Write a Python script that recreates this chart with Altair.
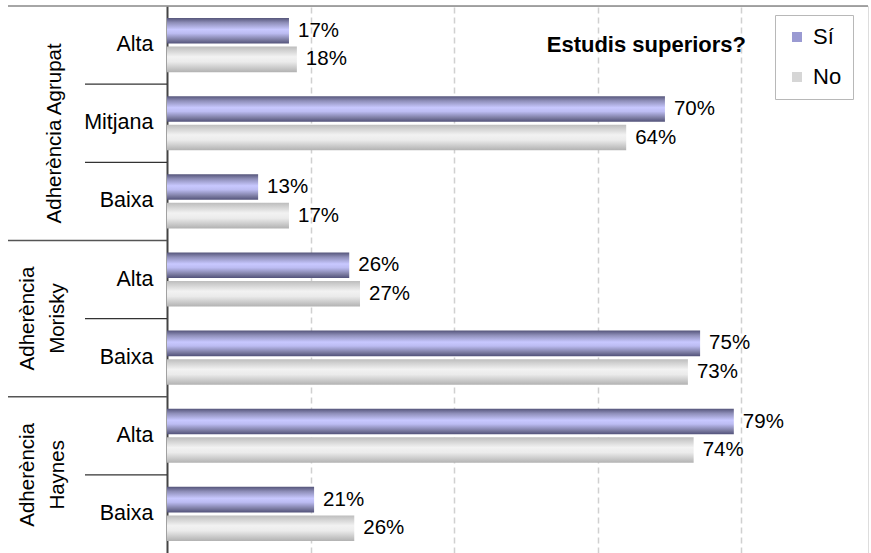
import altair as alt
import pandas as pd

# ---- data ----
groups = ["Agrupat", "Agrupat", "Agrupat", "Morisky", "Morisky", "Haynes", "Haynes"]
levels = ["Alta", "Mitjana", "Baixa", "Alta", "Baixa", "Alta", "Baixa"]
si_values = [17.0, 69.4, 12.7, 25.4, 74.3, 79.0, 20.5]
no_values = [18.1, 64.0, 17.0, 26.9, 72.6, 73.4, 26.1]
si_labels = ["17%", "70%", "13%", "26%", "75%", "79%", "21%"]
no_labels = ["18%", "64%", "17%", "27%", "73%", "74%", "26%"]
series = ["Sí", "No"]
group_names = ["Agrupat", "Morisky", "Haynes"]
group_titles = ["Adherència Agrupat", "Adherència\nMorisky", "Adherència\nHaynes"]
legend_title = "Estudis superiors?"
grid_values = [20, 40, 60, 80]

FONT = "Liberation Sans"

keys = [f"{g}|{l}" for g, l in zip(groups, levels)]

rows = []
for k, sv, nv, sl, nl in zip(keys, si_values, no_values, si_labels, no_labels):
    rows.append({"key": k, "series": "Sí", "value": sv, "label": sl})
    rows.append({"key": k, "series": "No", "value": nv, "label": nl})
df = pd.DataFrame(rows)

# separators
sep_rows = []
for i, k in enumerate(keys):
    if i == 0:
        continue
    kind = "long" if groups[i] != groups[i - 1] else "short"
    sep_rows.append({"key": k, "kind": kind})
sep_df = pd.DataFrame(sep_rows)

# group labels anchors
grp_rows = []
for g, t in zip(group_names, group_titles):
    idx = [i for i, gg in enumerate(groups) if gg == g]
    n = len(idx)
    if n % 2 == 1:
        anchor = keys[idx[n // 2]]
        kind = "odd"
    else:
        anchor = keys[idx[n // 2 - 1]]
        kind = "even"
    grp_rows.append({"anchor": anchor, "text": t, "kind": kind})
grp_df = pd.DataFrame(grp_rows)

W, H = 701, 547
XMAX = 97.7

grad_si = {
    "gradient": "linear", "x1": 0, "y1": 0, "x2": 0, "y2": 1,
    "stops": [
        {"offset": 0.0, "color": "#55557a"},
        {"offset": 0.18, "color": "#8e8eb8"},
        {"offset": 0.45, "color": "#c8c8ff"},
        {"offset": 0.6, "color": "#bcbcf2"},
        {"offset": 0.85, "color": "#7c7ca2"},
        {"offset": 1.0, "color": "#52527a"},
    ],
}
grad_no = {
    "gradient": "linear", "x1": 0, "y1": 0, "x2": 0, "y2": 1,
    "stops": [
        {"offset": 0.0, "color": "#bdbdbd"},
        {"offset": 0.4, "color": "#f2f2f2"},
        {"offset": 0.6, "color": "#ebebeb"},
        {"offset": 1.0, "color": "#b2b2b2"},
    ],
}

y_enc = alt.Y(
    "key:N", sort=keys, title=None,
    scale=alt.Scale(domain=keys, paddingInner=0, paddingOuter=0),
    axis=alt.Axis(
        ticks=False, domain=True, domainColor="#444444", domainWidth=2,
        labelPadding=14, labelFontSize=21.5, labelFont=FONT, labelColor="#000000",
        labelExpr="split(datum.label, '|')[1]", grid=False,
    ),
)
yoff = alt.YOffset("series:N", sort=series,
                   scale=alt.Scale(domain=series, paddingInner=0.105, paddingOuter=0.42))
x_enc = alt.X(
    "value:Q", title=None,
    scale=alt.Scale(domain=[0, XMAX], nice=False, zero=True),
    axis=alt.Axis(values=grid_values, grid=True, gridDash=[6, 4], gridColor="#d0d0d0",
                  gridWidth=1.5, labels=False, ticks=False, domain=False),
)

base = alt.Chart(df)

bars = base.mark_bar(cornerRadius=0).encode(
    x=x_enc,
    y=y_enc,
    yOffset=yoff,
    fill=alt.condition("datum.series === 'Sí'", alt.value(grad_si), alt.value(grad_no)),
)

labels = base.mark_text(align="left", baseline="middle", dx=9, fontSize=20.5, font=FONT,
                        color="#000000").encode(
    x=alt.X("value:Q"),
    y=alt.Y("key:N", sort=keys),
    yOffset=yoff,
    text="label:N",
)

legend_layer = base.transform_filter("false").mark_square(size=100, opacity=1).encode(
    x=alt.X("value:Q"),
    y=alt.Y("key:N", sort=keys),
    color=alt.Color(
        "series:N", sort=series,
        scale=alt.Scale(domain=series, range=["#9a9ad2", "#d6d6d6"]),
        legend=alt.Legend(
            title=None, orient="none", legendX=608, legendY=9, direction="vertical",
            strokeColor="#b8b8b8", padding=11, symbolType="square", symbolSize=100,
            symbolStrokeWidth=0, labelFontSize=22, labelFont=FONT, labelColor="#000000",
            labelOffset=5, rowPadding=18, fillColor="#ffffff",
        ),
    ),
)

title_text = alt.Chart(pd.DataFrame({"t": [legend_title]})).mark_text(
    align="right", baseline="middle", fontSize=22, fontWeight="bold", font=FONT, color="#000000"
).encode(x=alt.value(579), y=alt.value(39), text="t:N")

short_sep = alt.Chart(sep_df).transform_filter("datum.kind === 'short'").mark_rule(
    color="#333333", strokeWidth=1.3
).encode(y=alt.Y("key:N", sort=keys, bandPosition=0), x=alt.value(-82), x2=alt.value(0))

long_sep = alt.Chart(sep_df).transform_filter("datum.kind === 'long'").mark_rule(
    color="#555555", strokeWidth=1.6
).encode(y=alt.Y("key:N", sort=keys, bandPosition=0), x=alt.value(-159), x2=alt.value(0))

top_border = alt.Chart(pd.DataFrame({"a": [0]})).mark_rule(color="#888888", strokeWidth=1.6).encode(
    y=alt.value(0), x=alt.value(-159), x2=alt.value(W)
)

grp_odd = alt.Chart(grp_df).transform_filter("datum.kind === 'odd'").mark_text(
    angle=270, align="center", baseline="middle", fontSize=20.5, font=FONT, color="#000000",
    lineBreak="\n", lineHeight=30,
).encode(y=alt.Y("anchor:N", sort=keys, bandPosition=0.63), x=alt.value(-112), text="text:N")

grp_even = alt.Chart(grp_df).transform_filter("datum.kind === 'even'").mark_text(
    angle=270, align="center", baseline="middle", fontSize=20.5, font=FONT, color="#000000",
    lineBreak="\n", lineHeight=30,
).encode(y=alt.Y("anchor:N", sort=keys, bandPosition=1), x=alt.value(-139), text="text:N")

chart = alt.layer(
    bars, labels, legend_layer, short_sep, long_sep, top_border, grp_odd, grp_even, title_text
).properties(
    width=W, height=H, autosize=alt.AutoSizeParams(type="none"),
    padding={"left": 167, "top": 6, "right": 3, "bottom": 0},
).configure_view(stroke=None).configure(background="#ffffff")

chart.save("out.html", embed_options={"renderer": "svg", "actions": False})
